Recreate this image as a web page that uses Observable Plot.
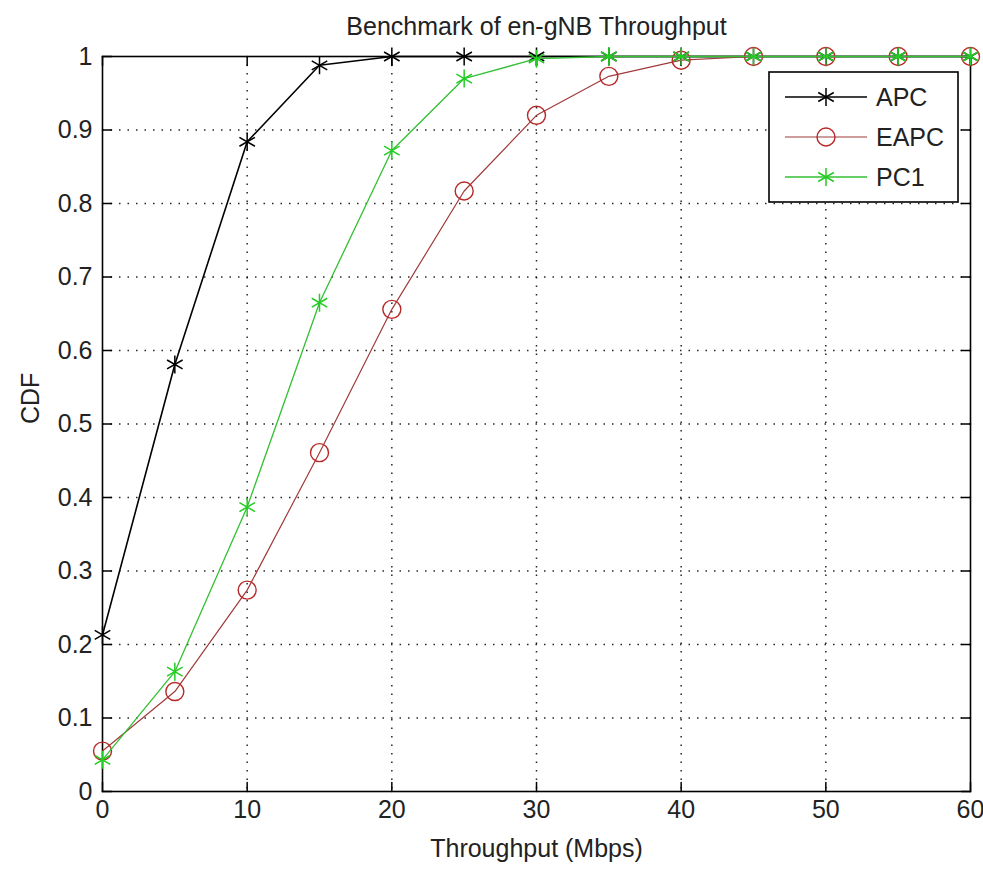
<!DOCTYPE html>
<html><head><meta charset="utf-8">
<script src="https://cdn.jsdelivr.net/npm/d3@7"></script>
<script src="https://cdn.jsdelivr.net/npm/@observablehq/plot@0.6"></script>
<style>body{margin:0;background:#fff}#chart svg{display:block}</style>
</head><body><div id="chart"></div>
<script>
const title = "Benchmark of en-gNB Throughput";
const xLabel = "Throughput (Mbps)";
const yLabel = "CDF";
const throughput = [0, 5, 10, 15, 20, 25, 30, 35, 40, 45, 50, 55, 60];
const apc  = [0.213, 0.581, 0.884, 0.988, 1.0, 1.0, 1.0, 1.0, 1.0, 1.0, 1.0, 1.0, 1.0];
const eapc = [0.055, 0.136, 0.274, 0.461, 0.656, 0.817, 0.920, 0.973, 0.995, 1.0, 1.0, 1.0, 1.0];
const pc1  = [0.043, 0.163, 0.387, 0.665, 0.872, 0.970, 0.997, 1.0, 1.0, 1.0, 1.0, 1.0, 1.0];
const seriesNames = ["APC", "EAPC", "PC1"];
const xTicks = [0, 10, 20, 30, 40, 50, 60];
const yTicks = [0, 0.1, 0.2, 0.3, 0.4, 0.5, 0.6, 0.7, 0.8, 0.9, 1];
const yTickLabels = ["0", "0.1", "0.2", "0.3", "0.4", "0.5", "0.6", "0.7", "0.8", "0.9", "1"];

(function () {
const FONT = "'Liberation Sans', Arial, Helvetica, sans-serif";
const FS = 25;
const TXT = "#222";
const styles = {
  APC:  {line: "#000000", mark: "#000000", symbol: d3.symbolAsterisk, width: 1.6},
  EAPC: {line: "#a03a3a", mark: "#b82828", symbol: d3.symbolCircle, width: 1.2},
  PC1:  {line: "#33c033", mark: "#22cc22", symbol: d3.symbolAsterisk, width: 1.3}
};
const values = {APC: apc, EAPC: eapc, PC1: pc1};
const rows = seriesNames.flatMap(s => throughput.map((x, i) => ({series: s, x, y: values[s][i]})));

const tickShape = {draw(ctx, l) { ctx.moveTo(0, 0); ctx.lineTo(0, -l); }};
const TL = 9;

const seriesMarks = seriesNames.flatMap(s => {
  const st = styles[s];
  const d = rows.filter(r => r.series === s);
  return [
    Plot.line(d, {x: "x", y: "y", stroke: st.line, strokeWidth: st.width}),
    Plot.dot(d, {x: "x", y: "y", symbol: st.symbol, stroke: st.mark, fill: "none",
      r: s === "EAPC" ? 9 : 8.5, strokeWidth: s === "EAPC" ? 1.4 : 1.5})
  ];
});

const plot = Plot.plot({
  width: 983, height: 872,
  marginLeft: 102, marginRight: 13, marginTop: 56, marginBottom: 81,
  style: {fontFamily: FONT, fontSize: FS + "px", color: TXT, background: "#fff", overflow: "visible"},
  x: {domain: [0, 60]},
  y: {domain: [0, 1]},
  marks: [
    Plot.gridX(xTicks.slice(1, -1), {stroke: "#000", strokeOpacity: 0.85, strokeDasharray: "1.5,7", strokeWidth: 1.5}),
    Plot.gridY(yTicks.slice(1, -1), {stroke: "#000", strokeOpacity: 0.85, strokeDasharray: "1.5,7", strokeWidth: 1.5}),
    Plot.axisX(xTicks, {tickSize: 0, tickPadding: 9, label: null, fontSize: FS, fill: TXT}),
    Plot.axisY(yTicks, {tickSize: 0, tickPadding: 10, label: null, fontSize: FS, fill: TXT,
      tickFormat: d => yTickLabels[yTicks.indexOf(d)]}),
    Plot.vector(xTicks, {x: d => d, y: () => 0, length: TL, anchor: "start", rotate: 0, shape: tickShape, stroke: "#000", strokeWidth: 1.5}),
    Plot.vector(xTicks, {x: d => d, y: () => 1, length: TL, anchor: "start", rotate: 180, shape: tickShape, stroke: "#000", strokeWidth: 1.5}),
    Plot.vector(yTicks, {x: () => 0, y: d => d, length: TL, anchor: "start", rotate: 90, shape: tickShape, stroke: "#000", strokeWidth: 1.5}),
    Plot.vector(yTicks, {x: () => 60, y: d => d, length: TL, anchor: "start", rotate: -90, shape: tickShape, stroke: "#000", strokeWidth: 1.5}),
    Plot.frame({stroke: "#000", strokeWidth: 1.6}),
    ...seriesMarks,
    Plot.text([title], {frameAnchor: "top", dy: -30, lineAnchor: "middle", fontSize: FS, fill: TXT}),
    Plot.text([xLabel], {frameAnchor: "bottom", dy: 57, lineAnchor: "middle", fontSize: FS, fill: TXT}),
    Plot.text([yLabel], {frameAnchor: "left", dx: -72, rotate: -90, lineAnchor: "middle", fontSize: FS, fill: TXT})
  ]
});

// Legend inside the plot (top-right), placed from the scales
const sx = plot.scale("x"), sy = plot.scale("y");
const boxRight = sx.apply(60) - 12, boxTop = sy.apply(1) + 16;
const boxW = 189, boxH = 130;
const boxLeft = boxRight - boxW;
const g = d3.select(plot).append("g").attr("font-family", FONT).attr("font-size", FS).attr("text-anchor", "start");
g.append("rect").attr("x", boxLeft).attr("y", boxTop).attr("width", boxW).attr("height", boxH)
  .attr("fill", "#fff").attr("stroke", "#000").attr("stroke-width", 1.6);
seriesNames.forEach((s, i) => {
  const st = styles[s];
  const cy = boxTop + 25 + i * 40;
  g.append("line").attr("x1", boxLeft + 16).attr("x2", boxLeft + 98).attr("y1", cy).attr("y2", cy)
    .attr("stroke", st.line).attr("stroke-width", st.width);
  const sym = d3.symbol().type(st.symbol).size(Math.PI * (s === "EAPC" ? 9 : 8.5) ** 2);
  g.append("path").attr("d", sym()).attr("transform", `translate(${boxLeft + 57},${cy})`)
    .attr("fill", "none").attr("stroke", st.mark).attr("stroke-width", s === "EAPC" ? 1.4 : 1.5);
  g.append("text").attr("x", boxLeft + 107).attr("y", cy).attr("dy", "0.36em").attr("fill", TXT).text(s);
});

document.getElementById("chart").appendChild(plot);
})();
</script>
</body></html>
